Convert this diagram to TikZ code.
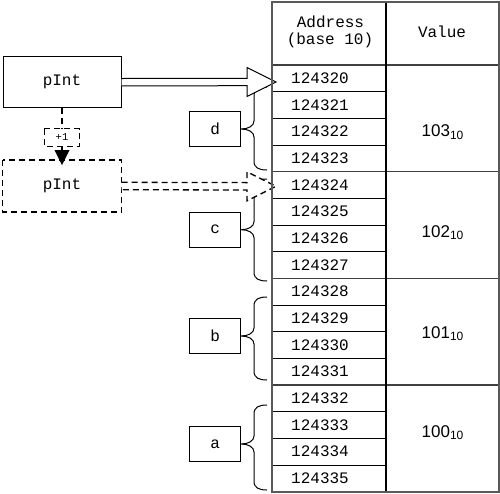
\documentclass[tikz,border=0pt]{standalone}
\usepackage{fontspec}
\setmainfont{Liberation Sans}
\setmonofont{Liberation Mono}
\usetikzlibrary{arrows.meta,calc}
\begin{document}
\begin{tikzpicture}[x=1pt,y=-1pt,
  mono/.style={font=\fontsize{16}{18}\selectfont\ttfamily},
  ptrbox/.style={draw,line width=1pt,minimum width=118pt,minimum height=51pt,mono,inner sep=0pt},
  lblbox/.style={draw,line width=1pt,minimum width=51.5pt,minimum height=35pt,mono,inner sep=0pt},
  dsh/.style={dash pattern=on 6pt off 4pt,line width=1.3pt},
  outerln/.style={draw=black!65,line width=1.8pt},
  grpln/.style={draw=black!75,line width=1.5pt},
  rowln/.style={draw=black,line width=0.9pt},
  addr/.style={mono,inner sep=0pt},
  valtxt/.style={font=\fontsize{17}{18}\selectfont,inner sep=0pt,anchor=base},
  brc/.style={draw,line width=1pt},
  hollow/.style={draw,fill=white,line width=1pt,line join=miter}
]
\useasboundingbox (0,0) rectangle (500,493);

% label boxes and braces
\foreach \n/\m/\t/\b in {d/129/87/170, c/229.7/179/281, b/336/297/380, a/444/405/490}{
  \node[lblbox] (\n) at (215.2,\m) {\n};
  \draw[brc] (\n.east) .. controls (248,\m) and (254,\m-3) .. (254,\m-8)
     -- (254,\t+9) .. controls (254,\t+2) and (259,\t) .. (267,\t);
  \draw[brc] (\n.east) .. controls (248,\m) and (254,\m+3) .. (254,\m+8)
     -- (254,\b-9) .. controls (254,\b-2) and (259,\b) .. (267,\b);
}

% pointer boxes
\node[ptrbox] (pA) at (62,82.2) {pInt};
\node[ptrbox,draw=none] (pB) at (62,186) {pInt};
\draw[dsh] (pB.north west) rectangle (pB.south east);
\node[draw=none,inner sep=0pt,minimum width=35pt,minimum height=17pt,font=\fontsize{10.5}{11}\selectfont\ttfamily] (plus) at (62,137.5) {+1};
\draw[dsh,line width=1.2pt] (plus.north west) rectangle (plus.south east);
\draw[dsh] (pA.south) -- (plus.north);
\draw[dsh,shorten >=-5pt,-{Triangle[length=15pt,width=15pt,line width=0pt]}] (plus.south) -- (pB.north);

% hollow arrows
\coordinate (tipA) at (276,82);
\coordinate (tipB) at (276,186.3);
\draw[hollow] ($(pA.east)+(0,-3.7)$) -- ($(tipA)+(-29,-3.7)$) -- ($(tipA)+(-29,-14.5)$)
   -- (tipA) -- ($(tipA)+(-29,14.5)$) -- ($(tipA)+(-29,3.7)$) -- ($(pA.east)+(0,3.7)$);
\fill[white] ($(pB.east)+(0,-3.7)$) -- ($(tipB)+(-29,-3.7)$) -- ($(tipB)+(-29,-14.5)$)
   -- (tipB) -- ($(tipB)+(-29,14.5)$) -- ($(tipB)+(-29,3.7)$) -- ($(pB.east)+(0,3.7)$) -- cycle;
\draw[dsh,line join=miter] ($(pB.east)+(0,-3.7)$) -- ($(tipB)+(-29,-3.7)$) -- ($(tipB)+(-29,-14.5)$)
   -- (tipB) -- ($(tipB)+(-29,14.5)$) -- ($(tipB)+(-29,3.7)$) -- ($(pB.east)+(0,3.7)$);

% table
\foreach \i in {1,2,3,5,6,7,9,10,11,13,14,15}{
  \draw[rowln] (272,{65+\i*26.667}) -- (386,{65+\i*26.667});
}
\foreach \i in {4,8,12}{
  \draw[grpln] (272,{65+\i*26.667}) -- (499,{65+\i*26.667});
}
\draw[grpln] (272,65) -- (499,65);
\draw[line width=1.3pt] (386,2) -- (386,491.7);
\draw[outerln] (272,2) rectangle (499,491.7);

% header
\node[addr,anchor=base] (hA) at (330.5,27) {Address};
\node[addr,anchor=base] (hB) at (330,44) {(base 10)};
\node[addr,anchor=base] (hV) at (442,37) {Value};

% addresses
\foreach \i in {0,...,15}{
  \node[addr] (r\i) at (320,{78.333+\i*26.667}) {\the\numexpr124320+\i\relax};
}

% values
\foreach \v/\y in {103/136.7,102/237,101/338,100/437}{
  \node[valtxt] (v\v) at (442.5,\y) {\v\raisebox{-2.5pt}{\fontsize{12}{12}\selectfont 10}};
}
\end{tikzpicture}
\end{document}
